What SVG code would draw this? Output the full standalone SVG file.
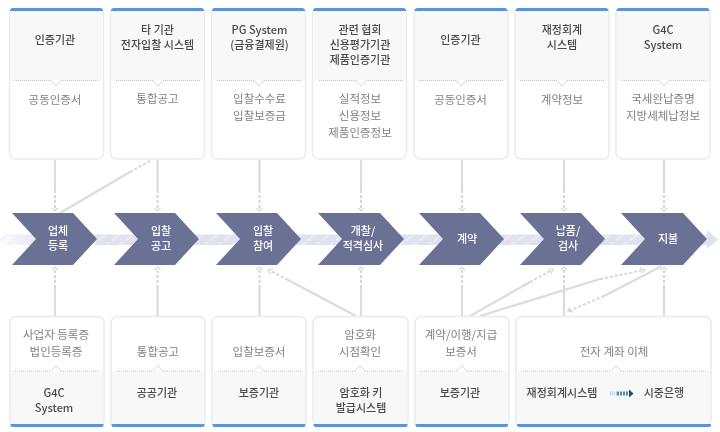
<svg xmlns="http://www.w3.org/2000/svg" width="720" height="432" viewBox="0 0 720 432">
<style>
text{font-family:"Noto Sans CJK KR","Noto Sans",sans-serif;text-anchor:middle}
.t{font-size:11px;font-weight:500;fill:#4a4a4a}
.b{font-size:11.5px;fill:#808080}
.w{font-size:11px;font-weight:500;fill:#fff}
.card{fill:#fff;stroke:#e8ebf0;stroke-width:1.5}
.shade{fill:#f8f8f8}
.bar{fill:#5b93dc}
.dot{stroke:#c4c4c4;stroke-width:1;stroke-dasharray:1 1;fill:none}
.tick{fill:#fff;stroke:#cccccc;stroke-width:.8}
.cs{stroke:#dcdcdc;stroke-width:2.2;fill:none}
.cd{stroke:#d6d6d6;stroke-width:2;stroke-dasharray:3 2;fill:none}
.ah{fill:none;stroke:#d6d6d6;stroke-width:1.2}
.chev{fill:#6b7195}
</style>
<defs>
<filter id="soft" x="0" y="0" width="100%" height="100%"><feGaussianBlur stdDeviation="0.4"/></filter>
<linearGradient id="fade" x1="0" x2="1" y1="0" y2="0"><stop offset="0" stop-color="#dfe1ee" stop-opacity="0"/><stop offset="0.06" stop-color="#dfe1ee"/><stop offset="1" stop-color="#dfe1ee"/></linearGradient>
<pattern id="hatch" width="14" height="11" patternUnits="userSpaceOnUse"><path d="M-2 11L12 0" stroke="#eef0f7" stroke-width="1.5"/></pattern>
</defs>
<g filter="url(#soft)">
<rect width="720" height="432" fill="#fff"/>
<g id="band">
<rect x="0" y="234.500" width="708" height="10.500" fill="url(#fade)"/>
<rect x="0" y="234.500" width="708" height="10.500" fill="url(#hatch)"/>
<path d="M707 230L718 239.500L707 249Z" fill="#dfe1ee"/>
</g>
<g id="connectors">
<path class="cs" d="M55 160V190M157.500 160V190M259.500 160V190M361 160V190M462 160V190M564 160V190M664 160V190"/>
<path class="cd" d="M55 190V209M157.500 190V209M259.500 190V209M361 190V209M462 190V209M564 190V209M664 190V209"/>
<path class="ah" d="M52 208L55 211L58 208M154.500 208L157.500 211L160.500 208M256.500 208L259.500 211L262.500 208M358 208L361 211L364 208M459 208L462 211L465 208M561 208L564 211L567 208M661 208L664 211L667 208"/>
<path class="cs" d="M55 316V288M157.500 316V288M259.500 316V288M361 316V288M462 316V288M564 316V288M664 316V288"/>
<path class="cd" d="M55 288V270M157.500 288V270M259.500 288V270M361 288V270M462 288V270M564 288V270M664 288V270"/>
<path class="ah" d="M52 270L55 267L58 270M154.500 270L157.500 267L160.500 270M256.500 270L259.500 267L262.500 270M358 270L361 267L364 270M459 270L462 267L465 270M561 270L564 267L567 270M661 270L664 267L667 270"/>
<path class="cs" d="M60 213L130 172"/><path class="cd" d="M130 172L150 161"/>
<path class="cs" d="M356 316L288 280"/><path class="cd" d="M288 280L269 270"/><path class="ah" d="M273 268.500L268 270L271 274"/>
<path class="cs" d="M470 316L530 282"/><path class="cd" d="M530 282L552 270"/><path class="ah" d="M548 269L553 269L551 274"/>
<path class="cs" d="M480 316L600 279"/><path class="cd" d="M600 279L644 270"/><path class="ah" d="M640 268L645 270L642 273"/>
<path class="cs" d="M662 266L604 296"/><path class="cd" d="M604 296L569 311"/><path class="ah" d="M570 307L568 311L573 312"/>
</g>
<g id="top1"><rect class="card" x="9.500" y="8.500" width="94" height="150.500" rx="6"/><path class="shade" d="M10.500 11H102.500V81H10.500Z"/><path class="bar" d="M10 11V10.500Q10 8 13 8H100Q103 8 103 10.500V11Z"/><path class="dot" d="M14 80.500H51M61 80.500H98"/><path class="tick" d="M51 80.500L56 86L61 80.500"/><text class="t" x="55" y="44">인증기관</text><text class="b" x="55" y="104">공동인증서</text></g>
<g id="top2"><rect class="card" x="110.500" y="8.500" width="94" height="150.500" rx="6"/><path class="shade" d="M111.500 11H203.500V81H111.500Z"/><path class="bar" d="M111 11V10.500Q111 8 114 8H201Q204 8 204 10.500V11Z"/><path class="dot" d="M116 80.500H153M163 80.500H200"/><path class="tick" d="M153 80.500L158 86L163 80.500"/><text class="t" x="157.500" y="34">타 기관</text><text class="t" x="157.500" y="49">전자입찰 시스템</text><text class="b" x="157.500" y="103">통합공고</text></g>
<g id="top3"><rect class="card" x="211.500" y="8.500" width="94" height="150.500" rx="6"/><path class="shade" d="M212.500 11H304.500V81H212.500Z"/><path class="bar" d="M212 11V10.500Q212 8 215 8H302Q305 8 305 10.500V11Z"/><path class="dot" d="M217 80.500H254M264 80.500H301"/><path class="tick" d="M254 80.500L259 86L264 80.500"/><text class="t" x="259.500" y="34">PG System</text><text class="t" x="259.500" y="49">(금융결제원)</text><text class="b" x="259.500" y="103">입찰수수료</text><text class="b" x="259.500" y="120">입찰보증금</text></g>
<g id="top4"><rect class="card" x="312.500" y="8.500" width="94" height="150.500" rx="6"/><path class="shade" d="M313.500 11H405.500V81H313.500Z"/><path class="bar" d="M313 11V10.500Q313 8 316 8H403Q406 8 406 10.500V11Z"/><path class="dot" d="M319 80.500H356M366 80.500H403"/><path class="tick" d="M356 80.500L361 86L366 80.500"/><text class="t" x="360" y="34">관련 협회</text><text class="t" x="360" y="49">신용평가기관</text><text class="t" x="360" y="64">제품인증기관</text><text class="b" x="360" y="103">실적정보</text><text class="b" x="360" y="120">신용정보</text><text class="b" x="360" y="137">제품인증정보</text></g>
<g id="top5"><rect class="card" x="414" y="8.500" width="94" height="150.500" rx="6"/><path class="shade" d="M415 11H507V81H415Z"/><path class="bar" d="M414.500 11V10.500Q414.500 8 417.500 8H504.500Q507.500 8 507.500 10.500V11Z"/><path class="dot" d="M419 80.500H456M466 80.500H503"/><path class="tick" d="M456 80.500L461 86L466 80.500"/><text class="t" x="460.500" y="44">인증기관</text><text class="b" x="460.500" y="104">공동인증서</text></g>
<g id="top6"><rect class="card" x="515" y="8.500" width="94" height="150.500" rx="6"/><path class="shade" d="M516 11H608V81H516Z"/><path class="bar" d="M515.500 11V10.500Q515.500 8 518.500 8H605.500Q608.500 8 608.500 10.500V11Z"/><path class="dot" d="M520 80.500H557M567 80.500H604"/><path class="tick" d="M557 80.500L562 86L567 80.500"/><text class="t" x="562" y="34">재정회계</text><text class="t" x="562" y="49">시스템</text><text class="b" x="562" y="104">계약정보</text></g>
<g id="top7"><rect class="card" x="616" y="8.500" width="94" height="150.500" rx="6"/><path class="shade" d="M617 11H709V81H617Z"/><path class="bar" d="M616.500 11V10.500Q616.500 8 619.500 8H706.500Q709.500 8 709.500 10.500V11Z"/><path class="dot" d="M622 80.500H659M669 80.500H706"/><path class="tick" d="M659 80.500L664 86L669 80.500"/><text class="t" x="663" y="34">G4C</text><text class="t" x="663" y="49">System</text><text class="b" x="663" y="103">국세완납증명</text><text class="b" x="663" y="120">지방세체납정보</text></g>
<g id="step1"><path class="chev" d="M12 213H73L97 239L73 265H12L36 239Z"/><text class="w" x="58" y="234.500">업체</text><text class="w" x="58" y="249.500">등록</text></g>
<g id="step2"><path class="chev" d="M114 213H175L199 239L175 265H114L138 239Z"/><text class="w" x="161" y="234.500">입찰</text><text class="w" x="161" y="249.500">공고</text></g>
<g id="step3"><path class="chev" d="M216 213H277L301 239L277 265H216L240 239Z"/><text class="w" x="263" y="234.500">입찰</text><text class="w" x="263" y="249.500">참여</text></g>
<g id="step4"><path class="chev" d="M318 213H380L404 239L380 265H318L342 239Z"/><text class="w" x="363" y="234.500">개찰/</text><text class="w" x="363" y="249.500">적격심사</text></g>
<g id="step5"><path class="chev" d="M419 213H480L504 239L480 265H419L443 239Z"/><text class="w" x="467" y="243">계약</text></g>
<g id="step6"><path class="chev" d="M520 213H581L605 239L581 265H520L544 239Z"/><text class="w" x="568" y="234.500">납품/</text><text class="w" x="568" y="249.500">검사</text></g>
<g id="step7"><path class="chev" d="M621 213H683L707 239L683 265H621L645 239Z"/><text class="w" x="668" y="243">지불</text></g>
<g id="bot1"><rect class="card" x="10" y="316.500" width="94" height="110" rx="6"/><path class="shade" d="M11 371H103V424H11Z"/><path class="bar" d="M10.500 424H103.500V425Q103.500 427 100.500 427H13.500Q10.500 427 10.500 425Z"/><path class="dot" d="M15 371H51M61 371H99"/><path class="tick" d="M51 371L56 365.500L61 371"/><text class="b" x="56" y="339">사업자 등록증</text><text class="b" x="56" y="356">법인등록증</text><text class="t" x="54" y="397">G4C</text><text class="t" x="54" y="412">System</text></g>
<g id="bot2"><rect class="card" x="111" y="316.500" width="94" height="110" rx="6"/><path class="shade" d="M112 371H204V424H112Z"/><path class="bar" d="M111.500 424H204.500V425Q204.500 427 201.500 427H114.500Q111.500 427 111.500 425Z"/><path class="dot" d="M117 371H153M163 371H200"/><path class="tick" d="M153 371L158 365.500L163 371"/><text class="b" x="158" y="356">통합공고</text><text class="t" x="157" y="397">공공기관</text></g>
<g id="bot3"><rect class="card" x="212" y="316.500" width="94" height="110" rx="6"/><path class="shade" d="M213 371H305V424H213Z"/><path class="bar" d="M212.500 424H305.500V425Q305.500 427 302.500 427H215.500Q212.500 427 212.500 425Z"/><path class="dot" d="M218 371H254M264 371H301"/><path class="tick" d="M254 371L259 365.500L264 371"/><text class="b" x="259" y="356">입찰보증서</text><text class="t" x="259" y="397">보증기관</text></g>
<g id="bot4"><rect class="card" x="313" y="316.500" width="95" height="110" rx="6"/><path class="shade" d="M314 371H407V424H314Z"/><path class="bar" d="M313.500 424H407.500V425Q407.500 427 404.500 427H316.500Q313.500 427 313.500 425Z"/><path class="dot" d="M318 371H355M365 371H402"/><path class="tick" d="M355 371L360 365.500L365 371"/><text class="b" x="360" y="339">암호화</text><text class="b" x="360" y="356">시점확인</text><text class="t" x="361" y="397">암호화 키</text><text class="t" x="361" y="412">발급시스템</text></g>
<g id="bot5"><rect class="card" x="415" y="316.500" width="94" height="110" rx="6"/><path class="shade" d="M416 371H508V424H416Z"/><path class="bar" d="M415.500 424H508V425Q508 427 505 427H418.500Q415.500 427 415.500 425Z"/><path class="dot" d="M420 371H457M467 371H503"/><path class="tick" d="M457 371L462 365.500L467 371"/><text class="b" x="461" y="339">계약/이행/지급</text><text class="b" x="461" y="356">보증서</text><text class="t" x="460" y="397">보증기관</text></g>
<g id="bot6"><rect class="card" x="516" y="316.500" width="195" height="110" rx="6"/><path class="shade" d="M517 371H710V424H517Z"/><path class="bar" d="M517 424H711V425Q711 427 708 427H520Q517 427 517 425Z"/><path class="dot" d="M521 371H611M621 371H707"/><path class="tick" d="M611 371L616 365.500L621 371"/><text class="b" x="614" y="356">전자 계좌 이체</text><text class="t" x="562" y="397">재정회계시스템</text><path d="M610 393.500H617" stroke="#b9cde3" stroke-width="4" stroke-dasharray="1 1"/><path d="M617 393.500H630" stroke="#5d86b5" stroke-width="4" stroke-dasharray="2 1"/><path d="M629 389.500L633.500 393.500L629 397.500Z" fill="#1d4a80"/><text class="t" x="664" y="397">시중은행</text></g>
</g>
</svg>
